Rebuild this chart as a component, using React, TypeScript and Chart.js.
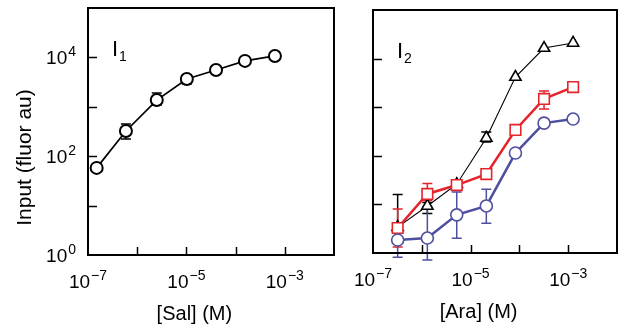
import React, { useEffect, useRef } from 'react';
import { Chart, registerables } from 'chart.js';

Chart.register(...registerables);

// ---------- Data ----------
const salConc = [1.5e-7, 5.9e-7, 2.5e-6, 1.02e-5, 4.0e-5, 1.55e-4, 6.3e-4];
const salInput = [58, 324, 1370, 3650, 5550, 8500, 10700];
const salLow = [50, 223, 1090, 2900, 5550, 8500, 10700];
const salHigh = [67, 450, 1900, 4400, 5550, 8500, 10700];

const araConc = [3.2e-7, 1.3e-6, 5.2e-6, 2.1e-5, 8.3e-5, 3.2e-4, 1.26e-3];
const araBlack = [3.4, 9.3, 26, 233, 4170, 16500, 21000];
const araBlackLow = [2.9, 6.5, 26, 192, 4170, 16500, 21000];
const araBlackHigh = [16, 11, 26, 309, 4170, 16500, 21000];
const araRed = [3.27, 16.4, 25, 42, 340, 1480, 2600];
const araRedLow = [1.33, 12, 23, 42, 340, 920, 2600];
const araRedHigh = [8.0, 27, 27, 42, 340, 2150, 2600];
const araBlue = [1.85, 2.03, 6.1, 9.3, 114, 470, 570];
const araBlueLow = [0.82, 0.72, 2.0, 4.1, 114, 470, 570];
const araBlueHigh = [2.0, 9.0, 18, 20.5, 114, 470, 570];

const xMinExp = -7;
const xMaxExp = -2;
const yMinExp = 0;
const yMaxExp = 5;
const xLabelExps = [-7, -5, -3];
const yLabelExps = [0, 2, 4];

const RED = '#e5232b';
const BLUE = '#4f4f9f';
const BLACK = '#000000';
const FONT = '"Liberation Sans", Arial, Helvetica, sans-serif';

const pts = (xs: number[], ys: number[]) => xs.map((x, i) => ({ x, y: ys[i] }));

// ---------- Plugins ----------
const errorBarPlugin = {
  id: 'errorBars',
  beforeDatasetsDraw(chart: any) {
    const ctx = chart.ctx;
    const xs = chart.scales.x;
    const ys = chart.scales.y;
    chart.data.datasets.forEach((ds: any) => {
      if (!ds.errLow) return;
      ctx.save();
      ctx.strokeStyle = ds.borderColor;
      ctx.lineWidth = ds.errWidth || 1.5;
      ds.data.forEach((p: any, i: number) => {
        const lo = ds.errLow[i];
        const hi = ds.errHigh[i];
        if (lo === p.y && hi === p.y) return;
        const px = xs.getPixelForValue(p.x);
        const pl = ys.getPixelForValue(lo);
        const ph = ys.getPixelForValue(hi);
        const cw = 5;
        ctx.beginPath();
        ctx.moveTo(px, pl);
        ctx.lineTo(px, ph);
        ctx.moveTo(px - cw, pl);
        ctx.lineTo(px + cw, pl);
        ctx.moveTo(px - cw, ph);
        ctx.lineTo(px + cw, ph);
        ctx.stroke();
      });
      ctx.restore();
    });
  },
};

function drawPow(ctx: any, x: number, y: number, exp: number, align: 'center' | 'right') {
  const baseFont = `19px ${FONT}`;
  const expFont = `14px ${FONT}`;
  const expStr = exp < 0 ? '\u2212' + Math.abs(exp) : String(exp);
  ctx.font = baseFont;
  const wb = ctx.measureText('10').width;
  ctx.font = expFont;
  const we = ctx.measureText(expStr).width;
  const total = wb + we + 1;
  const start = align === 'center' ? x - total / 2 : x - total;
  ctx.textAlign = 'left';
  ctx.textBaseline = 'alphabetic';
  ctx.font = baseFont;
  ctx.fillText('10', start, y);
  ctx.font = expFont;
  ctx.fillText(expStr, start + wb + 1, y - 8);
}

const framePlugin = {
  id: 'frameAxes',
  afterDraw(chart: any) {
    const o = chart.options.plugins.frameAxes;
    const ctx = chart.ctx;
    const { left, right, top, bottom } = chart.chartArea;
    const xs = chart.scales.x;
    const ys = chart.scales.y;
    ctx.save();
    ctx.fillStyle = '#000';
    ctx.strokeStyle = '#000';
    ctx.lineWidth = 2;
    ctx.strokeRect(left, top, right - left, bottom - top);
    ctx.lineWidth = 1.5;
    ctx.beginPath();
    for (let e = xMinExp + 1; e < xMaxExp; e++) {
      const px = Math.round(xs.getPixelForValue(Math.pow(10, e))) + 0.5;
      ctx.moveTo(px, bottom);
      ctx.lineTo(px, bottom - 8);
    }
    for (let e = yMinExp + 1; e < yMaxExp; e++) {
      const py = Math.round(ys.getPixelForValue(Math.pow(10, e))) + 0.5;
      ctx.moveTo(left, py);
      ctx.lineTo(left + 9, py);
    }
    ctx.stroke();

    xLabelExps.forEach((e) => {
      drawPow(ctx, xs.getPixelForValue(Math.pow(10, e)), bottom + 33, e, 'center');
    });
    if (o.yLabels) {
      yLabelExps.forEach((e) => {
        drawPow(ctx, left - 12, ys.getPixelForValue(Math.pow(10, e)) + 7, e, 'right');
      });
      ctx.save();
      ctx.translate(left - 63, (top + bottom) / 2 + 26);
      ctx.rotate(-Math.PI / 2);
      ctx.font = `21px ${FONT}`;
      ctx.textAlign = 'center';
      ctx.textBaseline = 'middle';
      ctx.fillText(o.yTitle, 0, 0);
      ctx.restore();
    }
    // x title
    ctx.font = `20px ${FONT}`;
    ctx.textAlign = 'center';
    ctx.textBaseline = 'alphabetic';
    ctx.fillText(o.xTitle, xs.getPixelForValue(1e-5) + 8, bottom + 65);

    // panel label
    ctx.textAlign = 'left';
    ctx.font = `22px ${FONT}`;
    ctx.fillText('I', left + 24, top + 48);
    ctx.font = `14px ${FONT}`;
    ctx.fillText(o.sub, left + 31, top + 53);
    ctx.restore();
  },
};

function baseOptions(cfg: any) {
  return {
    animation: false,
    responsive: false,
    maintainAspectRatio: false,
    layout: { autoPadding: false, padding: { left: 0, top: cfg.padTop, right: cfg.padRight, bottom: 0 } },
    plugins: {
      legend: { display: false },
      tooltip: { enabled: false },
      frameAxes: { yLabels: cfg.yLabels, yTitle: 'Input (fluor au)', xTitle: cfg.xTitle, sub: cfg.sub },
    },
    scales: {
      x: {
        type: 'logarithmic',
        min: Math.pow(10, xMinExp),
        max: Math.pow(10, xMaxExp),
        grid: { display: false },
        border: { display: false },
        ticks: { display: false },
        afterFit: (s: any) => {
          s.height = cfg.xHeight;
        },
      },
      y: {
        type: 'logarithmic',
        min: Math.pow(10, yMinExp),
        max: Math.pow(10, yMaxExp),
        grid: { display: false },
        border: { display: false },
        ticks: { display: false },
        afterFit: (s: any) => {
          s.width = cfg.yWidth;
        },
      },
    },
  };
}

function lineDs(label: string, xs: number[], ys: number[], lo: number[], hi: number[], color: string, style: string, radius: number, lw: number, pbw: number, order: number) {
  return {
    label,
    data: pts(xs, ys),
    errLow: lo,
    errHigh: hi,
    borderColor: color,
    borderWidth: lw,
    pointStyle: style,
    pointRadius: radius,
    pointBackgroundColor: '#ffffff',
    pointBorderColor: color,
    pointBorderWidth: pbw,
    tension: 0,
    clip: false,
    order,
  };
}

export default function App() {
  const leftRef = useRef<HTMLCanvasElement>(null);
  const rightRef = useRef<HTMLCanvasElement>(null);

  useEffect(() => {
    const c1 = new Chart(leftRef.current as HTMLCanvasElement, {
      type: 'line',
      data: {
        datasets: [lineDs('I1', salConc, salInput, salLow, salHigh, BLACK, 'circle', 6, 1.7, 2, 0)],
      },
      options: baseOptions({ padTop: 8, padRight: 11, xHeight: 72, yWidth: 88, yLabels: true, xTitle: '[Sal] (M)', sub: '1' }) as any,
      plugins: [errorBarPlugin, framePlugin],
    });
    const c2 = new Chart(rightRef.current as HTMLCanvasElement, {
      type: 'line',
      data: {
        datasets: [
          lineDs('black', araConc, araBlack, araBlackLow, araBlackHigh, BLACK, 'triangle', 6.5, 1.1, 1.6, 2),
          lineDs('red', araConc, araRed, araRedLow, araRedHigh, RED, 'rect', 7.5, 2.5, 1.6, 1),
          lineDs('blue', araConc, araBlue, araBlueLow, araBlueHigh, BLUE, 'circle', 6, 2.5, 1.6, 0),
        ],
      },
      options: baseOptions({ padTop: 10, padRight: 2, xHeight: 74, yWidth: 28, yLabels: false, xTitle: '[Ara] (M)', sub: '2' }) as any,
      plugins: [errorBarPlugin, framePlugin],
    });
    return () => {
      c1.destroy();
      c2.destroy();
    };
  }, []);

  return (
    <div style={{ position: 'fixed', left: 0, top: 0, width: 619, height: 327, background: '#fff' }}>
      <canvas ref={leftRef} width={345} height={327} style={{ position: 'absolute', left: 0, top: 0, width: 345, height: 327 }} />
      <canvas ref={rightRef} width={274} height={327} style={{ position: 'absolute', left: 345, top: 0, width: 274, height: 327 }} />
    </div>
  );
}
